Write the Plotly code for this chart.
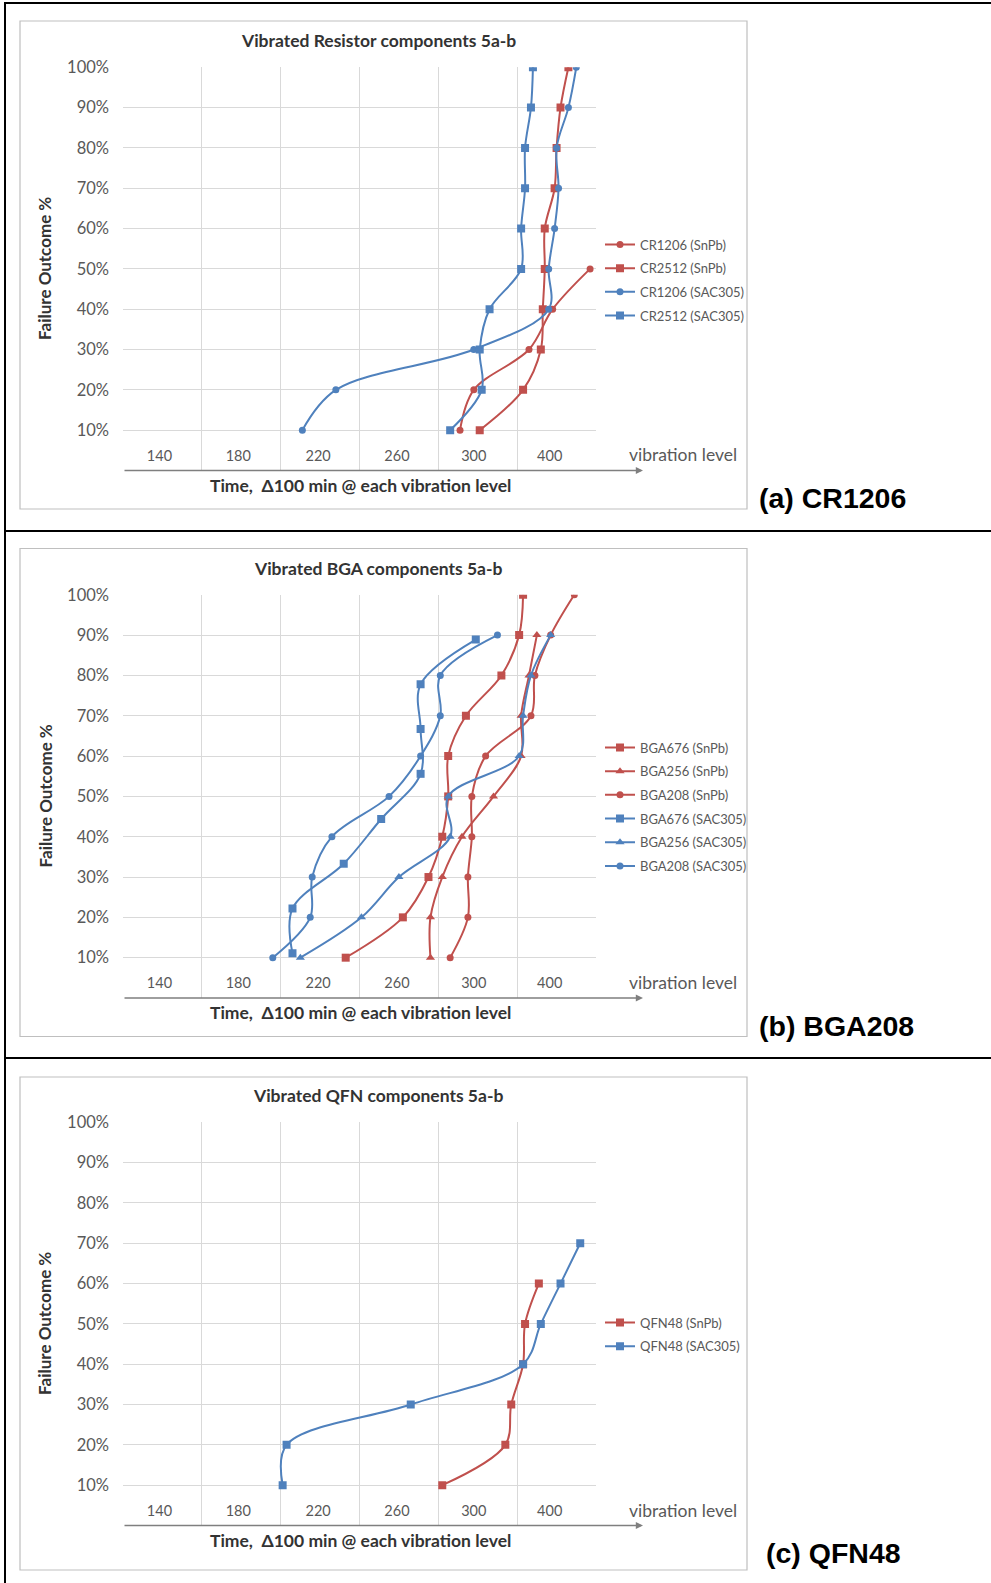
import plotly.graph_objects as go

W, H = 991, 1583

# ---------------- data ----------------
x_tick_vals = [138.5, 178.5, 219, 259, 298, 336.5]
x_tick_text = ["140", "180", "220", "260", "300", "400"]
pct10 = [10, 20, 30, 40, 50, 60, 70, 80, 90, 100]

# (a) resistors
cr1206_snpb_y = [10, 20, 30, 40, 50]
cr1206_snpb_x = [291, 298, 326, 338, 357]
cr2512_snpb_y = pct10
cr2512_snpb_x = [301, 323, 332, 333, 334, 334, 339, 340, 342, 346]
cr1206_sac_y = pct10
cr1206_sac_x = [211, 228, 298, 336, 336, 339, 341, 340, 346, 350]
cr2512_sac_y = pct10
cr2512_sac_x = [286, 302, 301, 306, 322, 322, 324, 324, 327, 328]

# (b) BGA
bga676_snpb_y = pct10
bga676_snpb_x = [233, 262, 275, 282, 285, 285, 294, 312, 321, 323]
bga256_snpb_y = [10, 20, 30, 40, 50, 60, 70, 80, 90]
bga256_snpb_x = [276, 276, 282, 292, 308, 322, 322, 326, 330]
bga208_snpb_y = pct10
bga208_snpb_x = [286, 295, 295, 297, 297, 304, 327, 329, 337, 349]
bga676_sac_y = [11.1, 22.2, 33.3, 44.4, 55.6, 66.7, 77.8, 88.9]
bga676_sac_x = [206, 206, 232, 251, 271, 271, 271, 299]
bga256_sac_y = [10, 20, 30, 40, 50, 60, 70, 80, 90]
bga256_sac_x = [210, 241, 260, 286, 285, 321, 323, 327, 337]
bga208_sac_y = [10, 20, 30, 40, 50, 60, 70, 80, 90]
bga208_sac_x = [196, 215, 216, 226, 255, 271, 281, 281, 310]

# (c) QFN
qfn48_snpb_y = [10, 20, 30, 40, 50, 60]
qfn48_snpb_x = [282, 314, 317, 323, 324, 331]
qfn48_sac_y = [10, 20, 30, 40, 50, 60, 70]
qfn48_sac_x = [201, 203, 266, 323, 332, 342, 352]

titles = ["Vibrated Resistor components 5a-b",
          "Vibrated BGA components 5a-b",
          "Vibrated QFN components 5a-b"]
panel_labels = ["(a) CR1206", "(b) BGA208", "(c) QFN48"]

RED = "#C0504D"
BLUE = "#4F81BD"
GRID = "#D9D9D9"
TXT = "#595959"
DARK = "#333333"
FONT = "Lato"

def px(v):
    return v / W

def py(v):
    return 1 - v / H

# panel geometry (pixels)
PLOT_X0, PLOT_X1 = 123, 596
PITCH = 527.5
TOP0, BOT0 = 67.3, 470.5

fig = go.Figure()

series = [
    # panel, name, x, y, color, symbol, size
    (0, "CR1206 (SnPb)", cr1206_snpb_x, cr1206_snpb_y, RED, "circle", 7),
    (0, "CR2512 (SnPb)", cr2512_snpb_x, cr2512_snpb_y, RED, "square", 8),
    (0, "CR1206 (SAC305)", cr1206_sac_x, cr1206_sac_y, BLUE, "circle", 7),
    (0, "CR2512 (SAC305)", cr2512_sac_x, cr2512_sac_y, BLUE, "square", 8),
    (1, "BGA676 (SnPb)", bga676_snpb_x, bga676_snpb_y, RED, "square", 8),
    (1, "BGA256 (SnPb)", bga256_snpb_x, bga256_snpb_y, RED, "triangle-up", 8),
    (1, "BGA208 (SnPb)", bga208_snpb_x, bga208_snpb_y, RED, "circle", 7),
    (1, "BGA676 (SAC305)", bga676_sac_x, bga676_sac_y, BLUE, "square", 8),
    (1, "BGA256 (SAC305)", bga256_sac_x, bga256_sac_y, BLUE, "triangle-up", 8),
    (1, "BGA208 (SAC305)", bga208_sac_x, bga208_sac_y, BLUE, "circle", 7),
    (2, "QFN48 (SnPb)", qfn48_snpb_x, qfn48_snpb_y, RED, "square", 8),
    (2, "QFN48 (SAC305)", qfn48_sac_x, qfn48_sac_y, BLUE, "square", 8),
]

axis_suffix = ["", "2", "3"]
legend_ids = ["legend", "legend2", "legend3"]

for i, (p, name, xs, ys, col, sym, sz) in enumerate(series):
    fig.add_trace(go.Scatter(
        x=xs, y=ys, name=name, mode="lines+markers",
        line=dict(color=col, width=2, shape="spline", smoothing=1),
        marker=dict(color=col, symbol=sym, size=sz),
        xaxis="x" + axis_suffix[p], yaxis="y" + axis_suffix[p],
        legend=legend_ids[p], legendgroup="g%d" % i,
    ))

legend_first_center = [241.5, 744.5, 1319.5]
shapes = []
annotations = []
layout = dict(
    width=W, height=H, margin=dict(l=0, r=0, t=0, b=0, pad=0, autoexpand=False),
    paper_bgcolor="white", plot_bgcolor="white", showlegend=True,
    font=dict(family=FONT, color=TXT),
)

for p in range(3):
    off = p * PITCH
    top, bot = TOP0 + off, BOT0 + off
    sfx = axis_suffix[p]
    layout["xaxis" + sfx] = dict(
        domain=[px(PLOT_X0), px(PLOT_X1)], range=[120, 360],
        anchor="y" + sfx, automargin=False,
        tickmode="array", tickvals=x_tick_vals, ticktext=x_tick_text,
        showgrid=False, zeroline=False, showline=False, ticks="",
        ticklabelposition="inside", ticklabelstandoff=4,
        tickfont=dict(family=FONT, size=14.5, color=TXT),
        minor=dict(tick0=120, dtick=40, showgrid=True, gridcolor=GRID, gridwidth=1.3),
    )
    layout["yaxis" + sfx] = dict(
        domain=[py(bot), py(top)], range=[0, 100], anchor="x" + sfx,
        automargin=False,
        tickmode="linear", tick0=0, dtick=10, ticksuffix="%",
        showgrid=True, gridcolor=GRID, gridwidth=1.3,
        zeroline=False, showline=False, ticks="",
        ticklabelstandoff=13,
        tickfont=dict(family=FONT, size=16.5, color=TXT),
    )
    layout[legend_ids[p]] = dict(
        x=px(600), y=py(legend_first_center[p] - 12), xanchor="left", yanchor="top",
        bgcolor="rgba(0,0,0,0)", font=dict(family=FONT, size=13, color=TXT),
        tracegroupgap=3.8, itemwidth=30,
    )
    # chart box
    shapes.append(dict(type="rect", xref="paper", yref="paper",
                       x0=px(20), x1=px(747), y0=py(21 + off + (1 if p == 2 else 0)),
                       y1=py(509 + off + (6 if p == 2 else 0)),
                       line=dict(color="#BFBFBF", width=1.2)))
    # title
    annotations.append(dict(text="<b>%s</b>" % titles[p], xref="paper", yref="paper",
                            x=px(378), y=py(40.5 + off), showarrow=False,
                            font=dict(family=FONT, size=17.5, color=DARK),
                            xanchor="center", yanchor="middle"))
    # y title
    annotations.append(dict(text="<b>Failure Outcome %</b>", xref="paper", yref="paper",
                            x=px(45), y=py((top + bot) / 2), showarrow=False, textangle=-90,
                            font=dict(family=FONT, size=17, color=DARK),
                            xanchor="center", yanchor="middle"))
    # x title
    annotations.append(dict(text="<b>Time,  \u0394100 min @ each vibration level</b>",
                            xref="paper", yref="paper",
                            x=px(360), y=py(485 + off), showarrow=False,
                            font=dict(family=FONT, size=17.5, color=DARK),
                            xanchor="center", yanchor="middle"))
    # vibration level label
    annotations.append(dict(text="vibration level", xref="paper", yref="paper",
                            x=px(627), y=py(455 + off), showarrow=False,
                            font=dict(family=FONT, size=17.5, color=TXT),
                            xanchor="left", yanchor="middle"))
    # arrow along the x axis
    annotations.append(dict(text="", xref="paper", yref="paper",
                            x=px(643), y=py(bot), ax=-(643 - PLOT_X0), ay=0,
                            showarrow=True, arrowhead=2, arrowsize=0.9,
                            arrowwidth=1.6, arrowcolor="#7F7F7F"))
    # panel label
    annotations.append(dict(text="<b>%s</b>" % panel_labels[p], xref="paper", yref="paper",
                            x=px(757 + (7 if p == 2 else 0)),
                            y=py(498 + off),
                            showarrow=False, xanchor="left", yanchor="middle",
                            font=dict(family="Liberation Sans, Arial", size=28.5, color="black")))

# outer table lines
BLACK = dict(color="black", width=2)
shapes.append(dict(type="line", xref="paper", yref="paper", x0=px(4), x1=1, y0=py(3), y1=py(3), line=BLACK))
shapes.append(dict(type="line", xref="paper", yref="paper", x0=px(5), x1=px(5), y0=py(3), y1=0, line=BLACK))
shapes.append(dict(type="line", xref="paper", yref="paper", x0=px(4), x1=1, y0=py(531), y1=py(531), line=BLACK))
shapes.append(dict(type="line", xref="paper", yref="paper", x0=px(4), x1=1, y0=py(1058), y1=py(1058), line=BLACK))

layout["shapes"] = shapes
layout["annotations"] = annotations
fig.update_layout(**layout)

post = ("document.body.style.margin='0px';document.body.style.padding='0px';"
        "document.body.style.overflow='hidden';"
        "var gd=document.getElementById('{plot_id}');"
        "gd.style.position='absolute';gd.style.left='0px';gd.style.top='0px';")
fig.write_html("out.html", post_script=post, config={"displayModeBar": False})
